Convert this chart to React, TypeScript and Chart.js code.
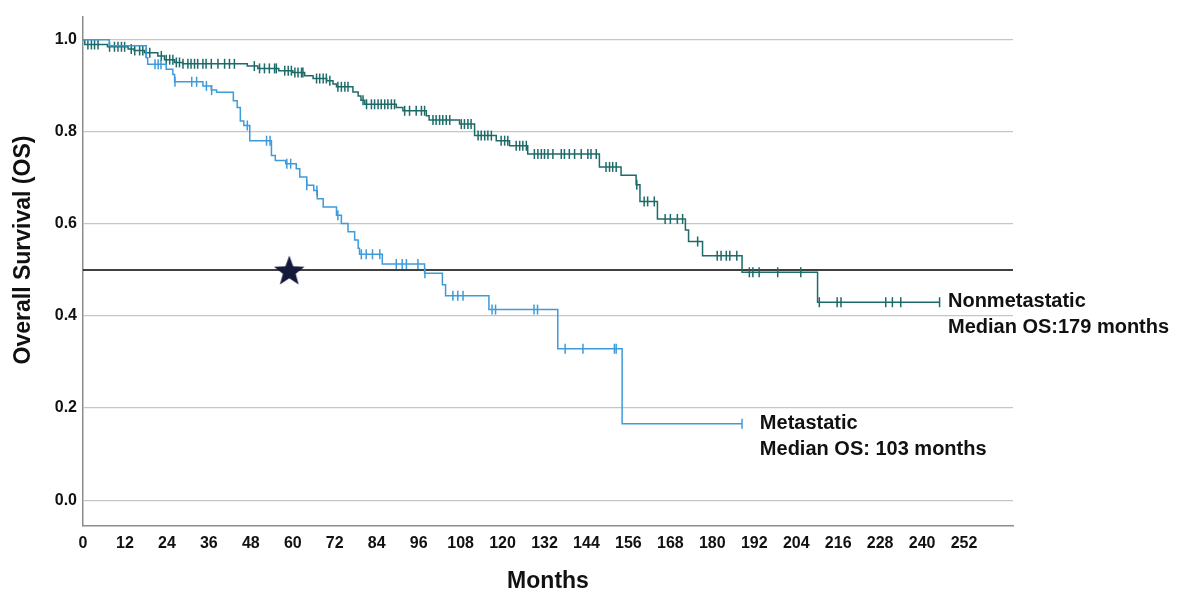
import React, { useEffect, useRef } from "react";
import { Chart, registerables } from "chart.js";

Chart.register(...registerables);

const FONT = "Arial, 'Liberation Sans', Helvetica, sans-serif";

// Axis ticks
const xTickValues = [0, 12, 24, 36, 48, 60, 72, 84, 96, 108, 120, 132, 144, 156, 168, 180, 192, 204, 216, 228, 240, 252];
const yTickValues = [0, 0.2, 0.4, 0.6, 0.8, 1.0];

// Nonmetastatic group: event times (months) and survival after each event
const nmEventMonths = [0.5, 7, 12.9, 14.6, 17.6, 21.4, 23.3, 26.2, 28.5, 47, 50, 56, 60, 63.4, 65.8, 69.7, 71.5, 72.5, 77.2, 78.7, 79.5, 80.6, 89.6, 91.5, 98.2, 99, 107.7, 112, 118.2, 122, 127.2, 147.7, 153.9, 158.2, 159.3, 164.3, 172.3, 173.2, 177.2, 188.5, 210.1];
const nmSurvival = [0.99, 0.985, 0.98, 0.977, 0.972, 0.965, 0.957, 0.951, 0.948, 0.943, 0.938, 0.933, 0.929, 0.922, 0.916, 0.911, 0.904, 0.898, 0.887, 0.878, 0.869, 0.86, 0.853, 0.846, 0.835, 0.826, 0.817, 0.792, 0.781, 0.77, 0.752, 0.724, 0.706, 0.685, 0.649, 0.611, 0.587, 0.562, 0.531, 0.495, 0.43];
const nmLastFollowUp = 245;
const nmCensorMonths = [1.4, 2.4, 3.3, 4.3, 7.6, 9.0, 10, 11, 11.9, 13.8, 14.8, 16.2, 17.1, 18.1, 19.1, 22.4, 23.8, 24.8, 25.7, 26.7, 27.6, 28.6, 30, 30.9, 31.9, 32.8, 34.3, 35.2, 36.7, 38.6, 40.5, 41.9, 43.3, 49, 50.5, 51.9, 53.3, 54.8, 55.3, 57.7, 58.7, 59.6, 60.6, 61.5, 62.5, 62.9, 66.8, 67.7, 68.7, 69.6, 70.6, 72.9, 73.9, 74.9, 75.8, 80.1, 81.1, 82.5, 83.4, 84.4, 85.3, 86.3, 87.2, 88.2, 89.1, 92, 93.4, 95.3, 96.8, 97.7, 100.1, 101, 102, 102.9, 103.9, 104.9, 108.2, 109.1, 110.1, 111, 113, 113.9, 114.9, 115.8, 116.8, 119.6, 120.6, 121.5, 123.9, 124.9, 125.8, 126.8, 129.1, 130.1, 131.1, 132, 133, 134.4, 136.8, 137.7, 139.1, 140.6, 142.5, 144.4, 145.3, 146.8, 149.6, 150.6, 151.5, 152.5, 158.4, 160.5, 161.5, 163.4, 166.5, 168, 170, 171.5, 175.8, 181.4, 182.5, 184, 185, 187, 190.6, 191.6, 193.4, 198.7, 205.3, 210.6, 215.7, 216.8, 229.6, 231.5, 233.9, 245];

// Metastatic group
const mEventMonths = [7.5, 18.1, 18.5, 23.8, 25.7, 26.2, 34.3, 36.7, 38.2, 43, 44.1, 45, 46, 47.7, 53.9, 55, 58, 61, 62, 64, 66, 67, 68.7, 72.5, 73.9, 75.8, 77.7, 78.7, 79.1, 85.6, 97.7, 102.8, 103.7, 116.1, 135.8, 154.2];
const mSurvival = [0.987, 0.961, 0.947, 0.936, 0.925, 0.909, 0.9, 0.891, 0.886, 0.868, 0.853, 0.824, 0.814, 0.781, 0.749, 0.738, 0.731, 0.72, 0.702, 0.684, 0.673, 0.655, 0.637, 0.619, 0.601, 0.583, 0.565, 0.547, 0.534, 0.513, 0.493, 0.468, 0.444, 0.414, 0.329, 0.166];
const mLastFollowUp = 188.5;
const mCensorMonths = [20.6, 21.5, 22.3, 26.3, 31.1, 32.5, 35.3, 36.8, 47, 52.5, 53.5, 58.3, 59.4, 64, 66.9, 72.9, 79.6, 81, 82.8, 84.9, 89.6, 91.3, 92.5, 95.8, 97.8, 105.8, 107.2, 108.7, 117, 118, 129, 130, 137.9, 143, 152, 152.5, 188.5];

const medianSurvival = 0.5;
const starMonth = 59;

const nmLabel = ["Nonmetastatic", "Median OS:179 months"];
const mLabel = ["Metastatic", "Median OS: 103 months"];

const NM_COLOR = "#1c6b68";
const M_COLOR = "#3d9bdc";

function survAt(events: number[], surv: number[], t: number) {
  let s = 1;
  for (let i = 0; i < events.length; i++) {
    if (events[i] <= t) s = surv[i];
  }
  return s;
}

function stepData(events: number[], surv: number[], last: number) {
  const pts = [{ x: 0, y: 1 }];
  events.forEach((t, i) => pts.push({ x: t, y: surv[i] }));
  pts.push({ x: last, y: surv[surv.length - 1] });
  return pts;
}

function censorData(events: number[], surv: number[], cens: number[]) {
  return cens.map((t) => ({ x: t, y: survAt(events, surv, t) }));
}

function makeStar(R: number, color: string) {
  const c = document.createElement("canvas");
  const size = Math.ceil(R * 2 + 4);
  c.width = size;
  c.height = size;
  const g = c.getContext("2d")!;
  const cx = size / 2;
  const cy = size / 2 + R * 0.1;
  const r = R * 0.42;
  g.beginPath();
  for (let i = 0; i < 10; i++) {
    const rad = i % 2 === 0 ? R : r;
    const a = -Math.PI / 2 + (i * Math.PI) / 5;
    const px = cx + rad * Math.cos(a);
    const py = cy + rad * Math.sin(a);
    if (i === 0) g.moveTo(px, py);
    else g.lineTo(px, py);
  }
  g.closePath();
  g.fillStyle = color;
  g.fill();
  return c;
}

const annotPlugin = {
  id: "annot",
  afterDraw(chart: any) {
    const { ctx, scales } = chart;
    const x = scales.x;
    const y = scales.y;
    ctx.save();
    ctx.fillStyle = "#111111";
    ctx.font = `bold 20px ${FONT}`;
    ctx.textAlign = "left";
    ctx.textBaseline = "middle";
    ctx.fillText(nmLabel[0], x.getPixelForValue(247.4), y.getPixelForValue(0.432));
    ctx.fillText(nmLabel[1], x.getPixelForValue(247.4), y.getPixelForValue(0.375));
    ctx.fillText(mLabel[0], x.getPixelForValue(193.6), y.getPixelForValue(0.166));
    ctx.fillText(mLabel[1], x.getPixelForValue(193.6), y.getPixelForValue(0.109));
    // y axis title
    ctx.font = `bold 23px ${FONT}`;
    ctx.textAlign = "center";
    ctx.translate(24, 250);
    ctx.rotate(-Math.PI / 2);
    ctx.fillText("Overall Survival (OS)", 0, 0);
    ctx.restore();
  },
};

export default function App() {
  const ref = useRef<HTMLCanvasElement>(null);
  useEffect(() => {
    const canvas = ref.current!;
    const star = makeStar(16, "#161a3a");
    const chart = new Chart(canvas, {
      type: "line",
      data: {
        datasets: [
          {
            label: "median",
            data: [
              { x: 0, y: medianSurvival },
              { x: 266, y: medianSurvival },
            ],
            borderColor: "#000000",
            borderWidth: 1.5,
            pointRadius: 0,
            order: 10,
          },
          {
            label: "Nonmetastatic",
            data: stepData(nmEventMonths, nmSurvival, nmLastFollowUp),
            borderColor: NM_COLOR,
            borderWidth: 1.5,
            stepped: true,
            pointRadius: 0,
            order: 6,
          },
          {
            label: "Nonmetastatic censored",
            data: censorData(nmEventMonths, nmSurvival, nmCensorMonths),
            showLine: false,
            pointStyle: "line",
            rotation: 90,
            pointRadius: 5,
            borderColor: NM_COLOR,
            pointBorderWidth: 1.5,
            order: 5,
          },
          {
            label: "Metastatic",
            data: stepData(mEventMonths, mSurvival, mLastFollowUp),
            borderColor: M_COLOR,
            borderWidth: 1.5,
            stepped: true,
            pointRadius: 0,
            order: 4,
          },
          {
            label: "Metastatic censored",
            data: censorData(mEventMonths, mSurvival, mCensorMonths),
            showLine: false,
            pointStyle: "line",
            rotation: 90,
            pointRadius: 5,
            borderColor: M_COLOR,
            pointBorderWidth: 1.5,
            order: 3,
          },
          {
            label: "star",
            data: [{ x: starMonth, y: medianSurvival }],
            showLine: false,
            pointStyle: star as any,
            pointRadius: 16,
            order: 1,
          },
        ] as any,
      },
      options: {
        animation: false,
        responsive: false,
        maintainAspectRatio: false,
        layout: { padding: { left: 0, right: 173, top: 14, bottom: 0 } },
        plugins: {
          legend: { display: false },
          tooltip: { enabled: false },
        },
        scales: {
          x: {
            type: "linear",
            min: 0,
            max: 266,
            afterFit: (s: any) => {
              s.height = 75;
            },
            afterBuildTicks: (s: any) => {
              s.ticks = xTickValues.map((v) => ({ value: v }));
            },
            grid: { display: false, drawTicks: false },
            border: { display: true, color: "#8c8c8c", width: 1.5 },
            ticks: {
              padding: 8,
              color: "#111111",
              font: { family: FONT, size: 16, weight: "bold" },
              maxRotation: 0,
              autoSkip: false,
            },
            title: {
              display: true,
              text: "Months",
              color: "#111111",
              font: { family: FONT, size: 23, weight: "bold" },
              padding: { top: 0, bottom: 6 },
            },
          },
          y: {
            type: "linear",
            min: -0.0562,
            max: 1.0497,
            afterFit: (s: any) => {
              s.width = 83;
            },
            afterBuildTicks: (s: any) => {
              s.ticks = yTickValues.map((v) => ({ value: v }));
            },
            grid: { display: true, color: "#c6c6c6", lineWidth: 1.2, drawTicks: false },
            border: { display: true, color: "#8c8c8c", width: 1.5 },
            ticks: {
              padding: 6,
              color: "#111111",
              font: { family: FONT, size: 16, weight: "bold" },
              callback: (v: any) => Number(v).toFixed(1),
            },
          },
        },
      },
      plugins: [annotPlugin],
    });
    return () => chart.destroy();
  }, []);
  return (
    <div style={{ position: "fixed", left: 0, top: 0, width: 1186, height: 601, background: "#ffffff" }}>
      <canvas ref={ref} width={1186} height={601} style={{ width: 1186, height: 601, display: "block" }} />
    </div>
  );
}
